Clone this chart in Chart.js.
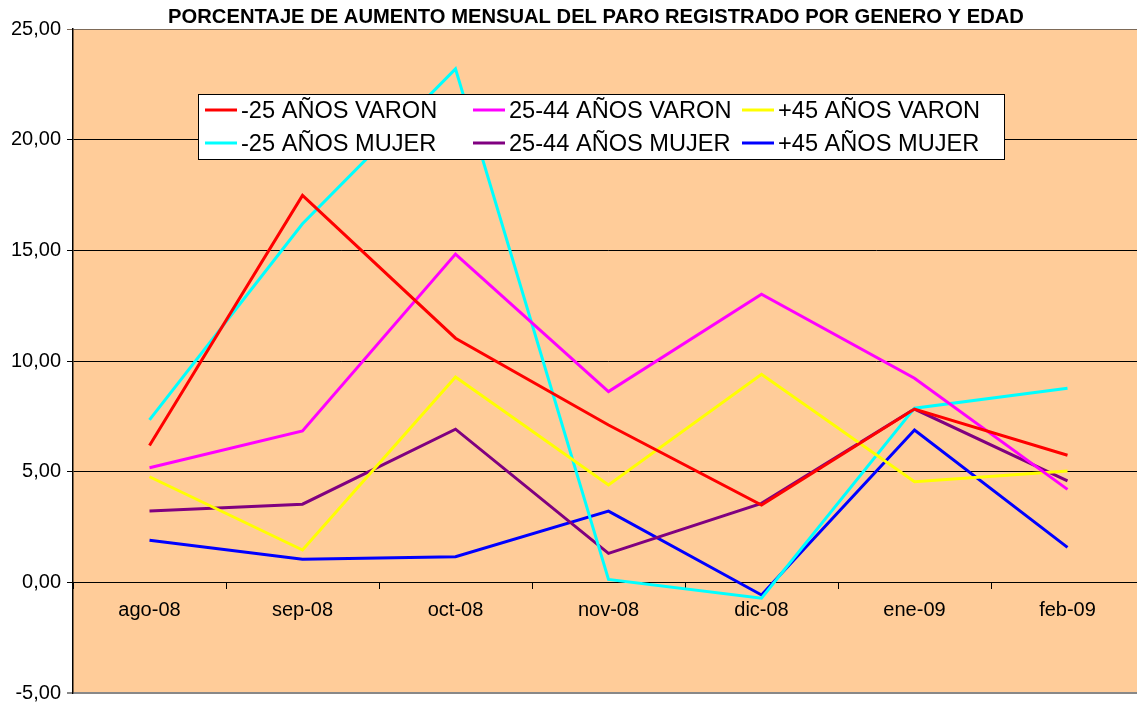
<!DOCTYPE html>
<html>
<head>
<meta charset="utf-8">
<script src="https://cdn.jsdelivr.net/npm/chart.js@4"></script>
<style>
  html, body { margin: 0; padding: 0; background: #fff; overflow: hidden; }
  #wrap { width: 1144px; height: 704px; }
</style>
</head>
<body>
<div id="wrap"><canvas id="chart" width="1144" height="704"></canvas></div>
<script>
const months = ['ago-08', 'sep-08', 'oct-08', 'nov-08', 'dic-08', 'ene-09', 'feb-09'];

const menos25Varon = [6.18, 17.48, 11.03, 7.11, 3.49, 7.83, 5.74];
const menos25Mujer = [7.34, 16.20, 23.20, 0.13, -0.72, 7.87, 8.77];
const de25a44Varon = [5.18, 6.84, 14.83, 8.62, 13.02, 9.22, 4.20];
const de25a44Mujer = [3.22, 3.53, 6.92, 1.31, 3.57, 7.83, 4.58];
const mas45Varon = [4.77, 1.46, 9.28, 4.40, 9.40, 4.55, 5.03];
const mas45Mujer = [1.90, 1.04, 1.16, 3.22, -0.57, 6.88, 1.58];

const title = 'PORCENTAJE DE AUMENTO MENSUAL DEL PARO REGISTRADO POR GENERO Y EDAD';
const FONT = '"Liberation Sans", Arial, sans-serif';

// order as the legend reads, row by row
const series = [
    { label: '-25 AÑOS VARON', data: menos25Varon, color: '#FF0000' },
    { label: '25-44 AÑOS VARON', data: de25a44Varon, color: '#FF00FF' },
    { label: '+45 AÑOS VARON', data: mas45Varon, color: '#FFFF00' },
    { label: '-25 AÑOS MUJER', data: menos25Mujer, color: '#00FFFF' },
    { label: '25-44 AÑOS MUJER', data: de25a44Mujer, color: '#800080' },
    { label: '+45 AÑOS MUJER', data: mas45Mujer, color: '#0000FF' },
];

// plot background, title and the boxed legend
const decorations = {
    id: 'decorations',
    beforeDraw(chart) {
        const { ctx, chartArea: a } = chart;
        ctx.save();
        ctx.fillStyle = '#FFCC99';
        ctx.fillRect(a.left, a.top, a.right - a.left, a.bottom - a.top);
        ctx.restore();
    },
    afterDraw(chart) {
        const ctx = chart.ctx;
        ctx.save();
        ctx.fillStyle = '#000';
        ctx.font = 'bold 20.2px ' + FONT;
        ctx.textAlign = 'center';
        ctx.textBaseline = 'middle';
        ctx.fillText(title, 596, 17);

        // legend box
        ctx.fillStyle = '#fff';
        ctx.fillRect(198.5, 94.5, 806, 65);
        ctx.strokeStyle = '#000';
        ctx.lineWidth = 1;
        ctx.strokeRect(198.5, 94.5, 806, 65);

        const colX = [205, 473, 742];
        const rowY = [110, 143];
        ctx.font = '23.6px ' + FONT;
        ctx.textAlign = 'left';
        chart.data.datasets.forEach((ds, i) => {
            const x = colX[i % 3];
            const y = rowY[Math.floor(i / 3)];
            ctx.strokeStyle = ds.borderColor;
            ctx.lineWidth = 3;
            ctx.beginPath();
            ctx.moveTo(x, y);
            ctx.lineTo(x + 32, y);
            ctx.stroke();
            ctx.fillStyle = '#000';
            ctx.fillText(ds.label, x + 36, y + 1);
        });
        ctx.restore();
    }
};

new Chart(document.getElementById('chart'), {
    type: 'line',
    data: {
        labels: months,
        datasets: series.map(s => ({
            label: s.label,
            data: s.data,
            borderColor: s.color,
            backgroundColor: s.color,
            borderWidth: 3,
            pointRadius: 0,
            tension: 0,
            fill: false
        }))
    },
    options: {
        responsive: false,
        animation: false,
        layout: { padding: { top: 29, bottom: 11, left: 0, right: 0 } },
        plugins: {
            legend: { display: false },
            title: { display: false },
            tooltip: { enabled: false }
        },
        scales: {
            x: {
                position: { y: 0 },
                offset: true,
                grid: {
                    display: true,
                    offset: true,
                    drawOnChartArea: false,
                    drawTicks: true,
                    tickLength: 6,
                    color: '#000'
                },
                border: { display: true, color: '#000', width: 1 },
                ticks: {
                    padding: 10,
                    color: '#000',
                    font: { family: FONT, size: 20 }
                },
                afterFit: scale => { scale.paddingLeft = 0; scale.paddingRight = 0; }
            },
            y: {
                min: -5,
                max: 25,
                ticks: {
                    stepSize: 5,
                    padding: 6,
                    color: '#000',
                    font: { family: FONT, size: 20 },
                    callback: v => v.toFixed(2).replace('.', ',')
                },
                grid: {
                    drawTicks: true,
                    tickLength: 6,
                    color: ctx => {
                        const v = ctx.tick ? ctx.tick.value : 0;
                        if (v === 25) return '#7d6a58';
                        if (v === -5) return '#888';
                        return '#000';
                    },
                    lineWidth: ctx => (ctx.tick && ctx.tick.value === -5) ? 2 : 1
                },
                border: { display: true, color: '#000', width: 1.5 },
                afterFit: scale => {
                    scale.width = 73;
                    scale.paddingTop = 0;
                    scale.paddingBottom = 0;
                }
            }
        }
    },
    plugins: [decorations]
});
</script>
</body>
</html>
